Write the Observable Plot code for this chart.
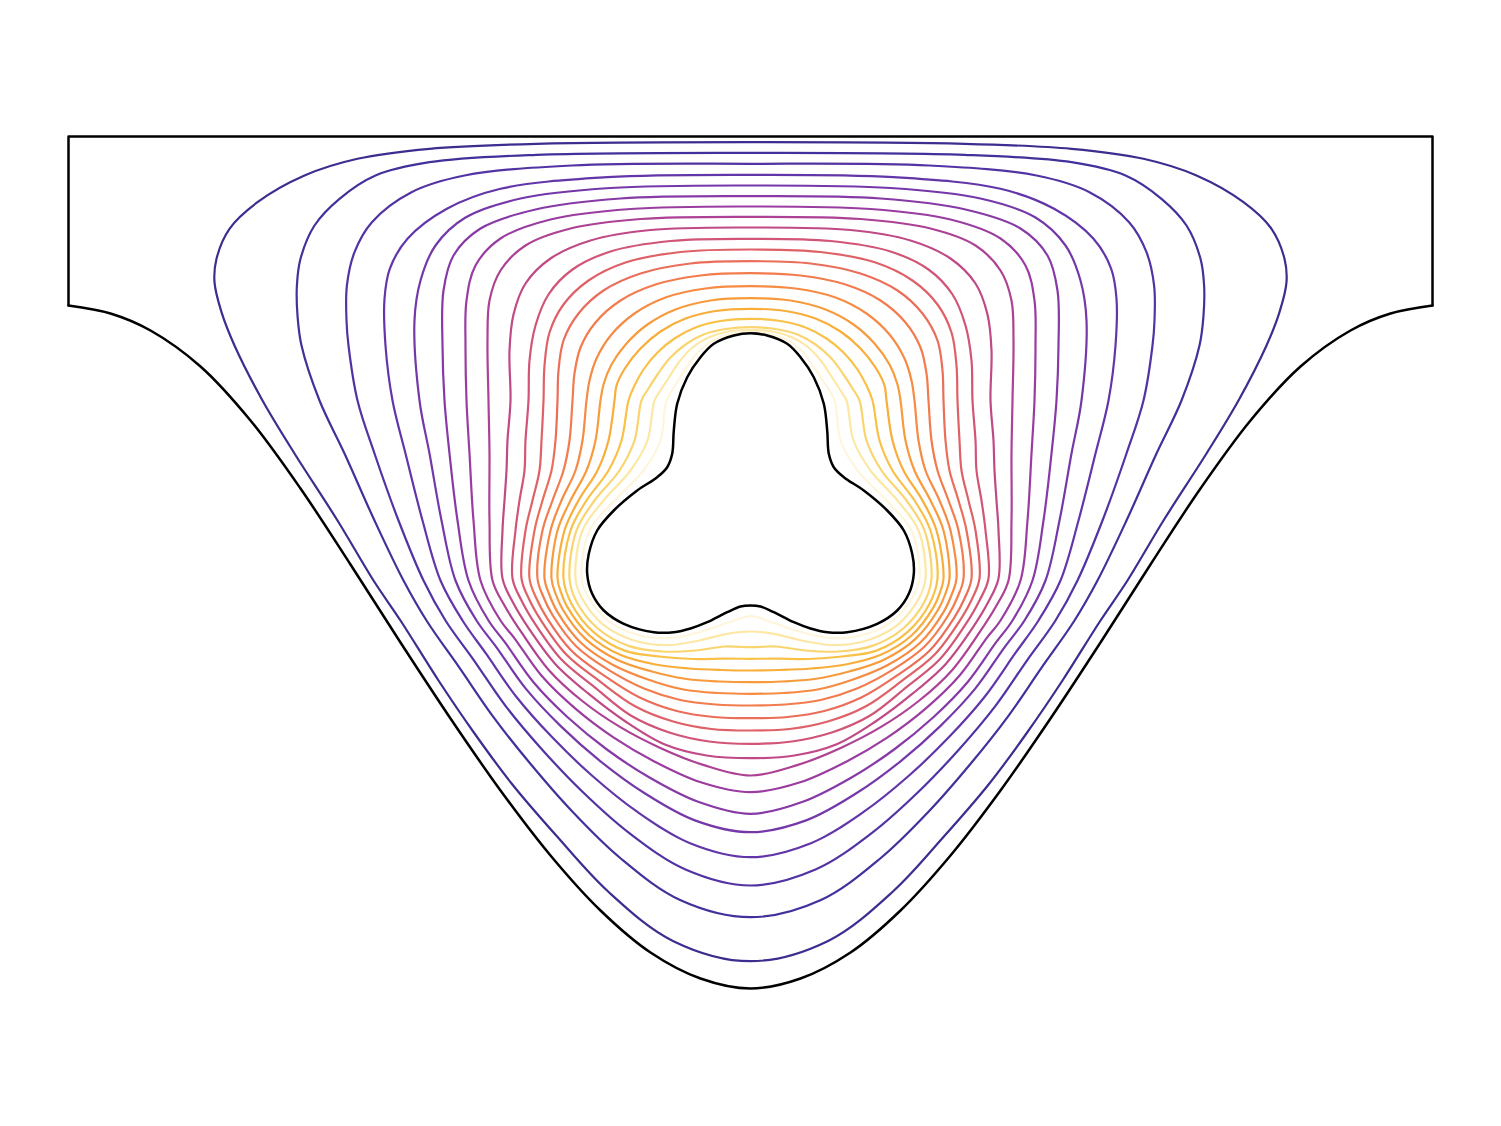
<!DOCTYPE html>
<html><head><meta charset="utf-8">
<script src="https://cdn.jsdelivr.net/npm/d3@7"></script>
<script src="https://cdn.jsdelivr.net/npm/@observablehq/plot@0.6"></script>
<style>html,body{margin:0;padding:0;background:#fff}</style>
</head><body><div id="chart"></div>
<script>
// Coordinates: x = horizontal position, d = depth below the top edge (same length unit).
// Outer boundary: flat top, two short side walls, bell-shaped floor (right half, wall corner -> bottom centre)
const wallHalfWidth = 6.82;
const wallDepth = 1.69;
const floorRight = [[6.82,1.69],[6.40,1.77],[6.00,1.94],[5.50,2.30],[5.00,2.84],[4.50,3.52],[4.00,4.28],[3.50,5.06],[3.00,5.82],[2.50,6.54],[2.00,7.19],[1.50,7.74],[1.00,8.16],[0.50,8.42],[0,8.52]];
// Trefoil obstacle, right half (top centre -> bottom centre)
const holeRight = [[0,1.967],[0.167,1.99],[0.367,2.073],[0.50,2.207],[0.633,2.407],[0.733,2.673],[0.767,2.94],[0.783,3.173],[0.833,3.307],[0.933,3.407],[1.133,3.54],[1.367,3.74],[1.533,3.94],[1.617,4.173],[1.633,4.373],[1.583,4.573],[1.467,4.74],[1.267,4.873],[0.967,4.957],[0.767,4.957],[0.60,4.92],[0.433,4.857],[0.233,4.757],[0.10,4.70],[0,4.69]];

// Contour lines, right halves (top centre -> bottom centre), outermost (c01) to innermost (c20)
const c01 = [[0,0.057],[2.14,0.073],[3.21,0.123],[3.93,0.223],[4.46,0.39],[4.93,0.657],[5.21,0.923],[5.34,1.223],[5.36,1.457],[5.29,1.757],[5.16,2.09],[4.88,2.64],[4.56,3.17],[4.13,3.84],[3.77,4.44],[3.50,4.84],[3.12,5.44],[2.77,5.955],[2.385,6.475],[1.936,6.998],[1.424,7.55],[0.776,8.044],[0,8.247]];
const c02 = [[0,0.163],[2.14,0.183],[3.21,0.257],[3.75,0.39],[4.11,0.623],[4.36,0.89],[4.50,1.223],[4.536,1.49],[4.53,1.79],[4.49,2.09],[4.31,2.64],[4.06,3.17],[3.76,3.84],[3.47,4.44],[3.24,4.84],[2.906,5.319],[2.574,5.801],[2.205,6.268],[1.789,6.743],[1.303,7.215],[0.704,7.635],[0,7.807]];
const c03 = [[0,0.273],[1.786,0.29],[2.86,0.39],[3.39,0.557],[3.786,0.857],[3.96,1.157],[4.036,1.49],[4.04,1.84],[4.02,2.09],[3.93,2.64],[3.76,3.17],[3.52,3.84],[3.27,4.44],[3.05,4.84],[2.766,5.238],[2.448,5.696],[2.087,6.127],[1.68,6.553],[1.212,6.966],[0.65,7.33],[0,7.49]];
const c04 = [[0,0.383],[1.43,0.407],[2.50,0.523],[3.036,0.723],[3.43,1.023],[3.607,1.323],[3.66,1.623],[3.65,2.09],[3.58,2.64],[3.45,3.17],[3.28,3.84],[3.10,4.44],[2.88,4.84],[2.646,5.169],[2.34,5.605],[1.985,6.006],[1.586,6.39],[1.134,6.752],[0.604,7.067],[0,7.207]];
const c05 = [[0,0.49],[1.40,0.515],[2.30,0.62],[2.85,0.81],[3.15,1.09],[3.30,1.44],[3.36,1.84],[3.31,2.64],[3.21,3.17],[3.09,3.84],[2.95,4.44],[2.74,4.84],[2.54,5.108],[2.245,5.524],[1.895,5.899],[1.503,6.246],[1.066,6.563],[0.563,6.836],[0,6.957]];
const c06 = [[0,0.597],[1.30,0.62],[2.15,0.73],[2.70,0.92],[2.97,1.19],[3.07,1.54],[3.08,2.09],[3.06,2.64],[3.01,3.17],[2.93,3.84],[2.82,4.44],[2.62,4.84],[2.455,5.059],[2.168,5.46],[1.823,5.813],[1.436,6.13],[1.01,6.41],[0.53,6.65],[0,6.773]];
const c07 = [[0,0.70],[1.20,0.725],[2.00,0.83],[2.50,1.02],[2.75,1.29],[2.84,1.64],[2.85,2.09],[2.84,2.64],[2.81,3.17],[2.77,3.84],[2.70,4.44],[2.50,4.84],[2.367,5.008],[2.089,5.393],[1.748,5.724],[1.367,6.011],[0.953,6.254],[0.497,6.458],[0,6.557]];
const c08 = [[0,0.803],[1.10,0.825],[1.80,0.92],[2.25,1.09],[2.50,1.34],[2.61,1.64],[2.63,2.04],[2.62,2.64],[2.61,3.17],[2.61,3.84],[2.58,4.44],[2.46,4.69],[2.288,4.962],[2.018,5.334],[1.682,5.645],[1.306,5.904],[0.902,6.114],[0.466,6.286],[0,6.39]];
const c09 = [[0,0.91],[1.00,0.935],[1.60,1.04],[2.00,1.22],[2.25,1.47],[2.37,1.78],[2.41,2.14],[2.40,2.64],[2.43,3.04],[2.44,3.34],[2.46,3.64],[2.48,3.94],[2.48,4.42],[2.375,4.66],[2.216,4.921],[1.953,5.274],[1.62,5.572],[1.25,5.85],[0.856,6.08],[0.439,6.19],[0,6.217]];
const c10 = [[0,1.023],[0.80,1.045],[1.40,1.15],[1.78,1.33],[2.02,1.58],[2.15,1.89],[2.21,2.24],[2.22,2.64],[2.25,3.04],[2.26,3.34],[2.31,3.64],[2.35,3.94],[2.38,4.42],[2.29,4.64],[2.149,4.882],[1.893,5.228],[1.563,5.504],[1.197,5.79],[0.812,5.96],[0.413,6.05],[0,6.073]];
const c11 = [[0,1.13],[0.70,1.155],[1.25,1.26],[1.62,1.44],[1.87,1.68],[2.01,1.96],[2.06,2.29],[2.07,2.64],[2.09,3.04],[2.11,3.34],[2.18,3.64],[2.25,3.94],[2.29,4.42],[2.215,4.625],[2.089,4.848],[1.839,5.183],[1.513,5.444],[1.15,5.70],[0.773,5.85],[0.39,5.925],[0,5.94]];
const c12 = [[0,1.247],[0.60,1.27],[1.10,1.37],[1.47,1.54],[1.72,1.77],[1.87,2.04],[1.92,2.34],[1.93,2.64],[1.95,3.04],[1.99,3.34],[2.08,3.64],[2.16,3.94],[2.21,4.42],[2.145,4.61],[2.035,4.816],[1.79,5.142],[1.467,5.389],[1.108,5.61],[0.738,5.745],[0.369,5.805],[0,5.817]];
const c13 = [[0,1.367],[0.50,1.39],[0.95,1.48],[1.30,1.64],[1.55,1.86],[1.70,2.11],[1.76,2.37],[1.78,2.64],[1.81,3.04],[1.87,3.34],[1.98,3.64],[2.08,3.94],[2.13,4.42],[2.075,4.595],[1.98,4.785],[1.741,5.10],[1.42,5.334],[1.065,5.52],[0.703,5.635],[0.348,5.68],[0,5.69]];
const c14 = [[0,1.497],[0.45,1.52],[0.85,1.61],[1.16,1.77],[1.39,1.98],[1.54,2.22],[1.61,2.44],[1.64,2.64],[1.68,3.04],[1.75,3.34],[1.89,3.64],[2.00,3.94],[2.06,4.42],[2.01,4.585],[1.93,4.756],[1.696,5.063],[1.378,5.283],[1.026,5.43],[0.67,5.53],[0.329,5.565],[0,5.573]];
const c15 = [[0,1.617],[0.40,1.64],[0.75,1.73],[1.03,1.88],[1.24,2.07],[1.39,2.28],[1.47,2.48],[1.50,2.64],[1.55,3.04],[1.64,3.34],[1.80,3.64],[1.93,3.94],[1.99,4.42],[1.95,4.57],[1.879,4.727],[1.65,5.024],[1.335,5.232],[0.986,5.35],[0.637,5.425],[0.309,5.45],[0,5.457]];
const c16 = [[0,1.723],[0.35,1.745],[0.65,1.82],[0.90,1.95],[1.10,2.12],[1.25,2.31],[1.34,2.49],[1.36,2.64],[1.42,3.04],[1.53,3.34],[1.72,3.64],[1.86,3.94],[1.93,4.42],[1.895,4.56],[1.834,4.701],[1.61,4.99],[1.297,5.186],[0.951,5.28],[0.608,5.32],[0.292,5.335],[0,5.34]];
const c17 = [[0,1.823],[0.30,1.845],[0.55,1.91],[0.76,2.02],[0.93,2.16],[1.07,2.33],[1.16,2.49],[1.22,2.64],[1.29,3.04],[1.42,3.34],[1.64,3.64],[1.80,3.94],[1.87,4.42],[1.789,4.675],[1.569,4.956],[1.259,5.141],[0.916,5.20],[0.58,5.225],[0.275,5.222],[0,5.223]];
const c18 = [[0,1.907],[0.25,1.925],[0.47,1.98],[0.65,2.08],[0.81,2.22],[0.93,2.38],[1.02,2.52],[1.09,2.64],[1.16,3.04],[1.31,3.34],[1.56,3.64],[1.74,3.94],[1.81,4.42],[1.742,4.648],[1.527,4.92],[1.219,5.094],[0.879,5.15],[0.55,5.14],[0.257,5.10],[0,5.107]];
const c19 = [[0,1.935],[0.22,1.95],[0.42,2.01],[0.58,2.11],[0.71,2.25],[0.81,2.40],[0.90,2.54],[0.96,2.64],[1.03,3.04],[1.20,3.34],[1.47,3.64],[1.68,3.94],[1.75,4.42],[1.686,4.616],[1.477,4.878],[1.172,5.037],[0.835,5.087],[0.51,5.04],[0.235,4.973],[0,4.95]];
const c20 = [[0,1.955],[0.18,1.97],[0.36,2.03],[0.51,2.14],[0.63,2.30],[0.73,2.45],[0.84,2.64],[0.90,3.04],[1.07,3.34],[1.36,3.64],[1.61,3.94],[1.69,4.42],[1.633,4.585],[1.429,4.838],[1.127,4.984],[0.794,5.015],[0.478,4.947],[0.215,4.858],[0,4.797]];

const contourHalves = [c01,c02,c03,c04,c05,c06,c07,c08,c09,c10,c11,c12,c13,c14,c15,c16,c17,c18,c19,c20];
const levels = [1,2,3,4,5,6,7,8,9,10,11,12,13,14,15,16,17,18,19,20];
const palette = ["#3e2c8f","#44309b","#5233a3","#6236a8","#7438a8","#873aa6","#9a3da0","#ad4295","#c04a86","#d15577","#df6168","#ea6e5a","#f27c4e","#f68b44","#f89b3d","#f9ad3b","#f9c148","#fad46e","#fce7a4","#fef5dc"];

function mirror(half){
  const left = half.slice(1, -1).reverse().map(([x,d]) => [-x, d]);
  return half.concat(left);
}
const contourRows = contourHalves.flatMap((h, i) => mirror(h).map(([x,d]) => ({x, d, level: levels[i]})));
const holeRows = mirror(holeRight).map(([x,d]) => ({x, d}));
const floorRows = floorRight.map(([x,d]) => ({x, d})).concat(floorRight.slice(0,-1).reverse().map(([x,d]) => ({x:-x, d})));
const frameRows = [{x:-wallHalfWidth,d:wallDepth},{x:-wallHalfWidth,d:0},{x:wallHalfWidth,d:0},{x:wallHalfWidth,d:wallDepth}];

const chart = Plot.plot({
  width: 1501, height: 1126,
  marginLeft: 68, marginRight: 69, marginTop: 136, marginBottom: 138,
  x: {domain: [-6.82, 6.82], axis: null},
  y: {domain: [0, 8.52], reverse: true, axis: null},
  color: {type: "ordinal", domain: levels, range: palette},
  marks: [
    Plot.line(contourRows, {x: "x", y: "d", z: "level", stroke: "level", strokeWidth: 2.2, curve: "catmull-rom-closed"}),
    Plot.line(frameRows, {x: "x", y: "d", stroke: "black", strokeWidth: 2.5}),
    Plot.line(floorRows, {x: "x", y: "d", stroke: "black", strokeWidth: 2.5, curve: "catmull-rom"}),
    Plot.line(holeRows, {x: "x", y: "d", stroke: "black", strokeWidth: 2.5, curve: "catmull-rom-closed"})
  ]
});
document.getElementById("chart").appendChild(chart);
</script>
</body></html>
